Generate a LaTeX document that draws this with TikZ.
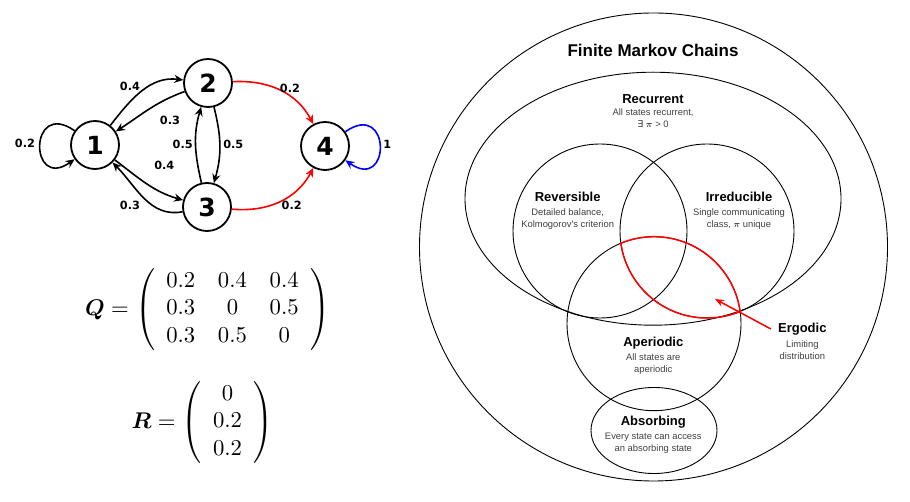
\documentclass[tikz,border=0pt]{standalone}
\usepackage{amsmath,bm}
\usepackage{fontspec}
\newfontfamily\vennfont{Liberation Sans}
\newfontfamily\graphfont{DejaVu Sans}
\usetikzlibrary{arrows.meta,shapes.geometric}
\definecolor{subgray}{gray}{0.25}
\begin{document}
\begin{tikzpicture}[x=1pt,y=1pt,
  state/.style={circle, draw, line width=1.8pt, minimum size=48pt, inner sep=0pt, font=\graphfont\bfseries\fontsize{25}{30}\selectfont},
  tr/.style={line width=1.6pt, -{Stealth[length=9pt,width=8pt]}},
  plab/.style={font=\graphfont\bfseries\fontsize{11.3}{13}\selectfont, inner sep=0pt},
  vset/.style={draw, line width=0.9pt, inner sep=0pt},
  head/.style={font=\vennfont\bfseries\fontsize{13}{15}\selectfont, inner sep=1pt},
  sub/.style={font=\vennfont\fontsize{9.4}{12.3}\selectfont, text=subgray, align=center, inner sep=0pt},
  ergline/.style={draw=red, line width=1.5pt},
  mat/.style={inner sep=0pt, scale=2.27, transform shape}]

\useasboundingbox (0,0) rectangle (910,501);

% ---------- Markov chain graph ----------
\node[state] (n1) at (95,356) {1};
\node[state] (n2) at (208,418) {2};
\node[state] (n3) at (207,294) {3};
\node[state] (n4) at (325,355) {4};

\draw[tr] (n1) to[out=52,in=173] (n2);
\draw[tr] (n2) to[out=200,in=33] (n1);
\draw[tr] (n1) to[out=-37,in=164] (n3);
\draw[tr] (n3) to[out=191,in=-45] (n1);
\draw[tr] (n2) to[out=-76,in=74] (n3);
\draw[tr] (n3) to[out=103,in=-106] (n2);
\draw[tr,red] (n2) to[out=3,in=118] (n4);
\draw[tr,red] (n3) to[out=-5,in=-118] (n4);
\draw[tr] (n1.145) .. controls +(145:56) and +(215:56) .. (n1.215);
\draw[tr,blue] (n4.35) .. controls +(35:56) and +(-35:56) .. (n4.-35);

\node[plab] (l12) at (130,414.3) {0.4};
\node[plab] (l21) at (170,380.3) {0.3};
\node[plab] (l32) at (182.7,356.7) {0.5};
\node[plab] (l23) at (233.3,356.7) {0.5};
\node[plab] (l13) at (164.3,336) {0.4};
\node[plab] (l31) at (130,296) {0.3};
\node[plab] (l24) at (290,412.7) {0.2};
\node[plab] (l34) at (291.7,296) {0.2};
\node[plab] (l11) at (25,357.7) {0.2};
\node[plab] (l44) at (387.3,356.7) {1};

% ---------- matrices ----------
\node[mat] (Q) at (207.5,191.5) {$\bm{Q} = \left(\begin{array}{ccc} 0.2 & 0.4 & 0.4\\ 0.3 & 0 & 0.5\\ 0.3 & 0.5 & 0 \end{array}\right)$};
\node[mat] (R) at (202.5,78.5) {$\bm{R} = \left(\begin{array}{c} 0\\ 0.2\\ 0.2 \end{array}\right)$};

% ---------- Venn diagram ----------
\node[vset, circle, minimum size=468pt] (outer) at (653.5,254) {};
\node[vset, ellipse, minimum width=376pt, minimum height=253pt] (rec) at (653,302.3) {};
\node[vset, circle, minimum size=174pt] (rev) at (600,270) {};
\node[vset, circle, minimum size=174pt] (irr) at (707,270) {};
\node[vset, circle, minimum size=174pt] (ape) at (654,177.3) {};
\node[vset, ellipse, minimum width=126pt, minimum height=86pt] (abs) at (654,70.5) {};

\begin{scope}
  \clip (irr.center) circle [radius=87.8];
  \draw[ergline] (ape.center) circle [radius=87];
\end{scope}
\begin{scope}
  \clip (ape.center) circle [radius=87.8];
  \draw[ergline] (irr.center) circle [radius=87];
\end{scope}

\node[font=\vennfont\bfseries\fontsize{17}{20}\selectfont] (title) at (653,450.3) {Finite Markov Chains};
\node[head] (hrec) at (653,401.7) {Recurrent};
\node[sub] (srec) at (653,383.2) {All states recurrent,\\{\graphfont ∃} $\bm{\pi}$ > 0};
\node[head] (hrev) at (567.7,303.7) {Reversible};
\node[sub] (srev) at (567.7,281.8) {Detailed balance,\\Kolmogorov's criterion};
\node[head] (hirr) at (739,303.7) {Irreducible};
\node[sub] (sirr) at (739,281.8) {Single communicating\\class, $\bm{\pi}$ unique};
\node[head] (hape) at (653.3,158.3) {Aperiodic};
\node[sub] (sape) at (653.3,137.2) {All states are\\aperiodic};
\node[head] (habs) at (653.3,78.7) {Absorbing};
\node[sub] (sabs) at (653.3,58) {Every state can access\\an absorbing state};
\node[head] (herg) at (802.3,172) {Ergodic};
\node[sub] (serg) at (802.3,150.7) {Limiting\\distribution};
\coordinate (ergtip) at (715,202);
\draw[ergline, -{Stealth[length=9pt,width=7pt]}] ([xshift=-6pt]herg.west) -- (ergtip);
\end{tikzpicture}
\end{document}
